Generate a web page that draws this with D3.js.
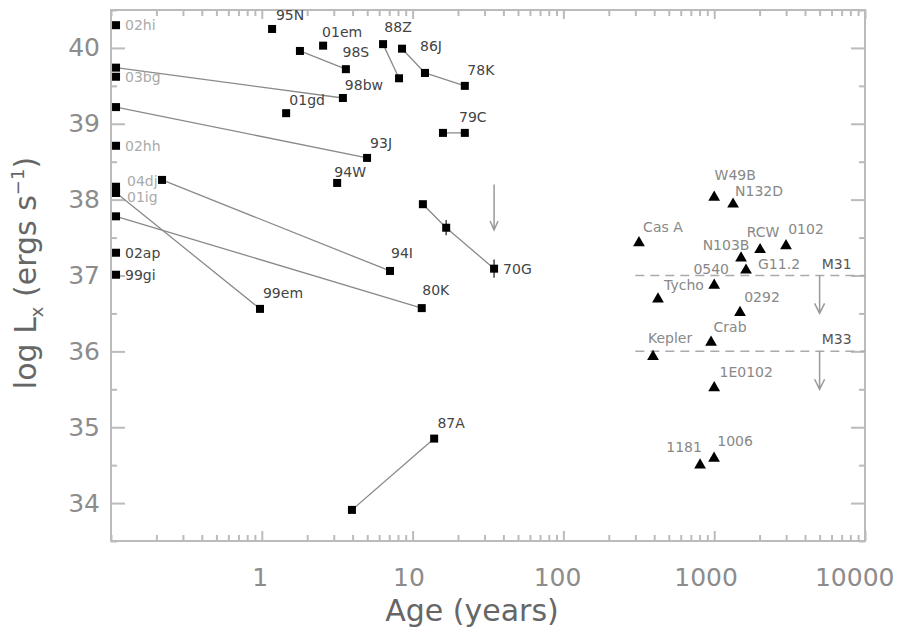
<!DOCTYPE html>
<html>
<head>
<meta charset="utf-8">
<script src="https://cdn.jsdelivr.net/npm/d3@7"></script>
<style>
  body { margin: 0; background: #fff; }
  text { font-family: "DejaVu Sans", sans-serif; }
</style>
</head>
<body>
<div id="chart"></div>
<script>
//Data: supernovae (squares, joined by lines when more than one epoch)
var snNames = ["02hi", "98bw", "03bg", "93J", "02hh", "04dj", "94I", "01ig", "99em", "80K", "02ap", "99gi",
    "95N", "01em", "98S", "01gd", "88Z", "86J", "78K", "79C", "94W", "70G", "87A"];
var snAges = [[0.108], [0.108, 3.45], [0.108], [0.108, 4.99], [0.108], [0.108], [0.218, 7.08], [0.108],
    [0.108, 0.973], [0.108, 11.5], [0.108], [0.108], [1.17], [2.55], [1.79, 3.61], [1.45], [6.37, 8.13],
    [8.51, 12.08], [12.08, 22.2], [15.9, 22.2], [3.16], [11.7, 16.7, 34.7], [3.96, 13.9]];
var snLogL = [[40.30], [39.74, 39.34], [39.62], [39.22, 38.55], [38.71], [38.17], [38.26, 37.06], [38.09],
    [38.09, 36.56], [37.78, 36.57], [37.30], [37.01], [40.25], [40.03], [39.96, 39.72], [39.14], [40.05, 39.60],
    [39.99, 39.67], [39.67, 39.50], [38.88, 38.88], [38.22], [37.94, 37.63, 37.09], [33.91, 34.85]];
var snErr = { "70G": [0, 0.1, 0.12] };
var snUpper = { name: "70G", age: 34.7, from: 38.2, to: 37.6 };

//Data: supernova remnants (triangles)
var snrNames = ["W49B", "N132D", "Cas A", "RCW", "0102", "N103B", "G11.2", "0540", "Tycho", "0292",
    "Crab", "Kepler", "1E0102", "1181", "1006"];
var snrAges = [1000, 1334, 317, 2015, 2993, 1507, 1626, 1000, 424, 1483, 953, 393, 1000, 806, 998];
var snrLogL = [38.03, 37.94, 37.43, 37.34, 37.39, 37.23, 37.07, 36.87, 36.69, 36.51, 36.12, 35.93, 35.52, 34.50, 34.59];

//Data: galaxy limits
var galNames = ["M31", "M33"];
var galLogL = [37.0, 36.0];
var galAgeRange = [300, 10000];
var galArrowAge = 5000;
var galArrowDrop = 0.5;

var xTickLabels = ["1", "10", "100", "1000", "10000"];
var yTickLabels = ["34", "35", "36", "37", "38", "39", "40"];

//Label layout: [point index, dx, dy, anchor]
var snLabelPos = {
    "02hi": [0, 9, 0, "start"], "98bw": [1, 21, -13, "middle"], "03bg": [0, 9, 0, "start"],
    "93J": [1, 14, -15, "middle"], "02hh": [0, 9, 0, "start"], "04dj": [0, 11, -6, "start"],
    "94I": [1, 12, -18, "middle"], "01ig": [0, 11, 4, "start"], "99em": [1, 23, -16, "middle"],
    "80K": [1, 14, -18, "middle"], "02ap": [0, 9, 0, "start"], "99gi": [0, 9, 0, "start"],
    "95N": [0, 18, -14, "middle"], "01em": [0, 19, -14, "middle"], "98S": [1, 10, -17, "middle"],
    "01gd": [0, 21, -13, "middle"], "88Z": [0, 15, -17, "middle"], "86J": [0, 29, -3, "middle"],
    "78K": [1, 16, -16, "middle"], "79C": [1, 8, -16, "middle"], "94W": [0, 13, -11, "middle"],
    "70G": [2, 9, 0, "start"], "87A": [1, 17, -16, "middle"]
};
var lightLabels = ["02hi", "03bg", "02hh", "04dj", "01ig"];
var snrLabelPos = {
    "W49B": [21, -22], "N132D": [26, -13], "Cas A": [24, -16], "RCW": [3, -18], "0102": [20, -17],
    "N103B": [-15, -13], "G11.2": [33, -6], "0540": [-3, -16], "Tycho": [26, -14], "0292": [22, -16],
    "Crab": [19, -15], "Kepler": [17, -19], "1E0102": [32, -16], "1181": [-16, -18], "1006": [21, -17]
};

//Setup
var width = 914, height = 634;
var plot = { left: 111, right: 865, top: 10, bottom: 541 };
var frameColor = "#bbb";
var lineColor = "#8a8a8a";

var x = d3.scaleLog().domain([0.1, 10000]).range([plot.left, plot.right]);
var y = d3.scaleLinear().domain([33.5, 40.5]).range([plot.bottom, plot.top]);

var svg = d3.select("#chart").append("svg")
    .attr("width", width)
    .attr("height", height);

//Axes
var majorX = xTickLabels.map(Number);
var minorX = x.ticks().filter(d => majorX.indexOf(d) < 0);
var majorY = yTickLabels.map(Number);
var minorY = d3.range(33.5, 40.51, 1);

function styleAxis(g) {
    g.select(".domain").remove();
    g.selectAll("line").attr("stroke", frameColor).attr("stroke-width", 2);
    g.selectAll("text").attr("fill", "#8c8c8c").attr("font-size", 25);
}

svg.append("g").attr("transform", `translate(0, ${plot.bottom})`)
    .call(d3.axisBottom(x).tickValues(minorX).tickSize(-6).tickFormat("")).call(styleAxis);
svg.append("g").attr("transform", `translate(0, ${plot.bottom})`)
    .call(d3.axisBottom(x).tickValues(majorX).tickSize(-10).tickPadding(27).tickFormat(d3.format("d")))
    .call(styleAxis)
    .selectAll("text").attr("dx", d => -(2 + 2.2 * (String(d).length - 1)));
svg.append("g").attr("transform", `translate(0, ${plot.top})`)
    .call(d3.axisTop(x).tickValues(minorX).tickSize(-6).tickFormat("")).call(styleAxis);
svg.append("g").attr("transform", `translate(0, ${plot.top})`)
    .call(d3.axisTop(x).tickValues(majorX).tickSize(-9).tickFormat("")).call(styleAxis);

svg.append("g").attr("transform", `translate(${plot.left}, 0)`)
    .call(d3.axisLeft(y).tickValues(majorY).tickSize(-14).tickPadding(11).tickFormat(d3.format("d")))
    .call(styleAxis);
svg.append("g").attr("transform", `translate(${plot.left}, 0)`)
    .call(d3.axisLeft(y).tickValues(minorY).tickSize(-6).tickFormat("")).call(styleAxis);
svg.append("g").attr("transform", `translate(${plot.right}, 0)`)
    .call(d3.axisRight(y).tickValues(majorY).tickSize(-14).tickFormat("")).call(styleAxis);
svg.append("g").attr("transform", `translate(${plot.right}, 0)`)
    .call(d3.axisRight(y).tickValues(minorY).tickSize(-6).tickFormat("")).call(styleAxis);

svg.append("rect")
    .attr("x", plot.left).attr("y", plot.top)
    .attr("width", plot.right - plot.left).attr("height", plot.bottom - plot.top)
    .attr("fill", "none").attr("stroke", frameColor).attr("stroke-width", 2);

//Axis titles
svg.append("text")
    .attr("x", 472).attr("y", 621)
    .attr("text-anchor", "middle")
    .attr("font-size", 30).attr("fill", "#666")
    .text("Age (years)");

var yTitle = svg.append("text")
    .attr("transform", "translate(36, 273) rotate(-90)")
    .attr("text-anchor", "middle")
    .attr("font-size", 30).attr("fill", "#666");
yTitle.append("tspan").text("log L");
yTitle.append("tspan").attr("dy", 7).attr("font-size", 18).text("x");
yTitle.append("tspan").attr("dy", -7).text(" (ergs s");
yTitle.append("tspan").attr("dy", -12).attr("font-size", 18).text("\u22121");
yTitle.append("tspan").attr("dy", 12).text(")");

//Galaxy limits
var gal = svg.append("g");
galNames.forEach(function (name, i) {
    gal.append("line")
        .attr("x1", x(galAgeRange[0])).attr("x2", x(galAgeRange[1]))
        .attr("y1", y(galLogL[i])).attr("y2", y(galLogL[i]))
        .attr("stroke", "#aaa").attr("stroke-width", 1.5).attr("stroke-dasharray", "9,6");
    var ax = x(galArrowAge), ay0 = y(galLogL[i]), ay1 = y(galLogL[i] - galArrowDrop);
    gal.append("path")
        .attr("d", `M${ax},${ay0}V${ay1}M${ax - 5},${ay1 - 10}L${ax},${ay1}L${ax + 5},${ay1 - 10}`)
        .attr("fill", "none").attr("stroke", "#999").attr("stroke-width", 1.5);
    gal.append("text")
        .attr("x", ax + 17).attr("y", ay0 - 12 + 5)
        .attr("text-anchor", "middle")
        .attr("font-size", 14).attr("fill", "#555")
        .text(name);
});

//Supernova lines
var line = d3.line().x(d => x(d[0])).y(d => y(d[1]));
var snPoints = snNames.map((name, i) => snAges[i].map((a, j) => [a, snLogL[i][j]]));

svg.append("g").selectAll("path")
    .data(snPoints.filter(p => p.length > 1))
    .join("path")
    .attr("d", line)
    .attr("fill", "none").attr("stroke", lineColor).attr("stroke-width", 1.3);

//Error bars
Object.keys(snErr).forEach(function (name) {
    var i = snNames.indexOf(name);
    snErr[name].forEach(function (e, j) {
        if (!e) return;
        var px = x(snAges[i][j]);
        svg.append("line")
            .attr("x1", px).attr("x2", px)
            .attr("y1", y(snLogL[i][j] + e)).attr("y2", y(snLogL[i][j] - e))
            .attr("stroke", "#444").attr("stroke-width", 1.5);
    });
});

//Upper limit arrow
(function () {
    var ax = x(snUpper.age), a0 = y(snUpper.from), a1 = y(snUpper.to);
    svg.append("path")
        .attr("d", `M${ax},${a0}V${a1}M${ax - 4},${a1 - 9}L${ax},${a1}L${ax + 4},${a1 - 9}`)
        .attr("fill", "none").attr("stroke", "#999").attr("stroke-width", 1.5);
})();

//Supernova squares
svg.append("g").selectAll("rect")
    .data(snPoints.flat())
    .join("rect")
    .attr("x", d => x(d[0]) - 4).attr("y", d => y(d[1]) - 4)
    .attr("width", 8).attr("height", 8)
    .attr("fill", "#000");

//Supernova labels
svg.append("g").selectAll("text")
    .data(snNames)
    .join("text")
    .attr("x", (d, i) => x(snAges[i][snLabelPos[d][0]]) + snLabelPos[d][1])
    .attr("y", (d, i) => y(snLogL[i][snLabelPos[d][0]]) + snLabelPos[d][2] + 5)
    .attr("text-anchor", d => snLabelPos[d][3])
    .attr("font-size", 14)
    .attr("fill", d => lightLabels.indexOf(d) >= 0 ? "#aaa" : "#444")
    .text(d => d);

//Remnant triangles
svg.append("g").selectAll("path")
    .data(snrNames)
    .join("path")
    .attr("transform", (d, i) => `translate(${x(snrAges[i])}, ${y(snrLogL[i])})`)
    .attr("d", d3.symbol().type(d3.symbolTriangle).size(60))
    .attr("fill", "#000");

svg.append("g").selectAll("text")
    .data(snrNames)
    .join("text")
    .attr("x", (d, i) => x(snrAges[i]) + snrLabelPos[d][0])
    .attr("y", (d, i) => y(snrLogL[i]) + snrLabelPos[d][1] + 5)
    .attr("text-anchor", "middle")
    .attr("font-size", 14)
    .attr("fill", "#888")
    .text(d => d);
</script>
</body>
</html>
